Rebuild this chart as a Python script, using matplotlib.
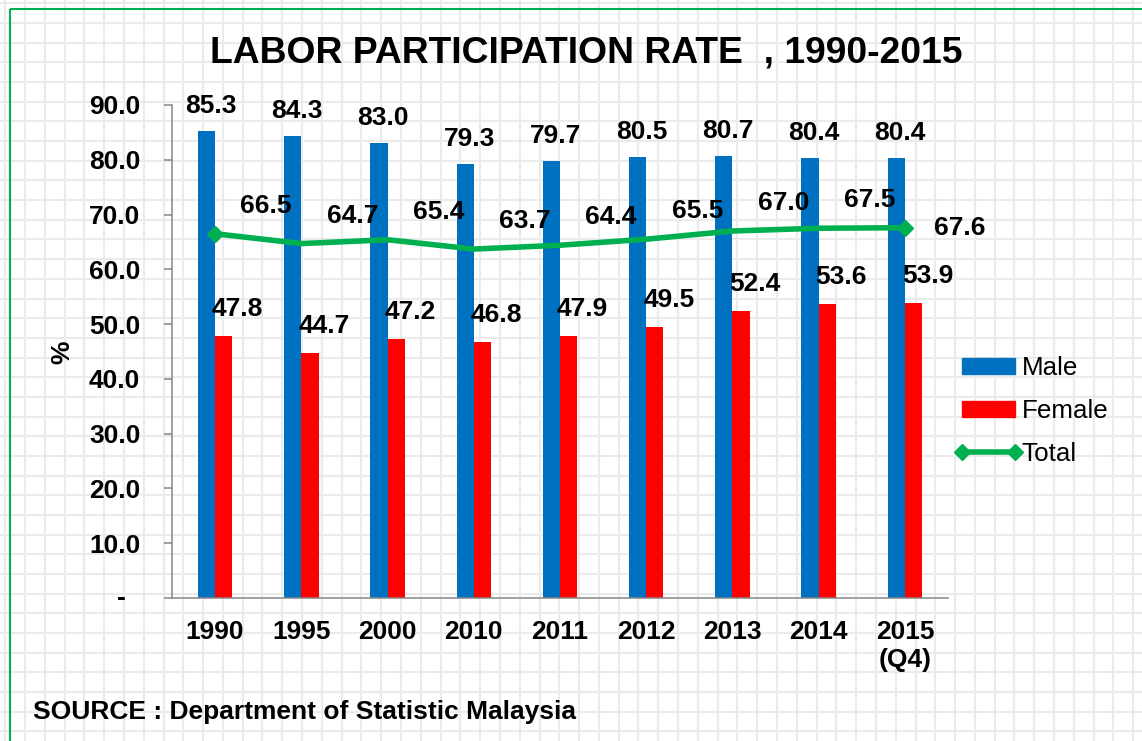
import matplotlib
matplotlib.use("Agg")
import matplotlib.pyplot as plt
import numpy as np
from matplotlib.lines import Line2D
from matplotlib.patches import Patch, Rectangle
from matplotlib.legend_handler import HandlerLine2D

years = ["1990", "1995", "2000", "2010", "2011", "2012", "2013", "2014", "2015\n(Q4)"]
male = [85.3, 84.3, 83.0, 79.3, 79.7, 80.5, 80.7, 80.4, 80.4]
female = [47.8, 44.7, 47.2, 46.8, 47.9, 49.5, 52.4, 53.6, 53.9]
total = [66.5, 64.7, 65.4, 63.7, 64.4, 65.5, 67.0, 67.5, 67.6]
yticks = [0, 10, 20, 30, 40, 50, 60, 70, 80, 90]
ylabels = ["", "10.0", "20.0", "30.0", "40.0", "50.0", "60.0", "70.0", "80.0", "90.0"]

BLUE = "#0070C0"
RED = "#FF0000"
GREEN = "#00B050"
AXGRAY = "#868686"
FS = 19

W, H = 1142, 741
plt.rcParams['font.family'] = ['Liberation Sans', 'DejaVu Sans']
fig = plt.figure(figsize=(W / 100, H / 100), dpi=100)

# graph paper background + green frame
bg = fig.add_axes([0, 0, 1, 1], zorder=0)
bg.set_xlim(0, W)
bg.set_ylim(H, 0)
bg.axis('off')
bg.vlines(np.arange(5.2, W + 20, 19.79), 0, H, color='#ebebeb', lw=1.45)
bg.hlines(np.arange(3.3, H + 20, 19.68), 0, W, color='#ebebeb', lw=1.45)
bg.add_patch(Rectangle((10, 9), W + 50, H + 50, fill=False, ec=GREEN, lw=1.5, zorder=5))

ax = fig.add_axes([172 / W, (H - 598) / H, 776 / W, 493 / H], zorder=1)
ax.set_facecolor('none')
x = np.arange(len(years))
ax.bar(x - 0.1, male, 0.2, color=BLUE, zorder=2)
ax.bar(x + 0.1, female, 0.2, color=RED, zorder=2)
ax.plot(x, total, color=GREEN, lw=4, marker='D', ms=8.5, markevery=[0, len(x) - 1], zorder=3)

ax.set_xlim(-0.5, len(x) - 0.5)
ax.set_ylim(0, 90)
ax.set_xticks(x, years)
ax.set_yticks(yticks, ylabels)
ax.tick_params(axis='x', length=0, pad=16, labelsize=FS)
ax.tick_params(axis='y', length=5.8, width=1.1, color=AXGRAY, pad=17, labelsize=FS)
for lbl in ax.get_xticklabels() + ax.get_yticklabels():
    lbl.set_fontweight('bold')
    lbl.set_linespacing(1.2)
for s in ['top', 'right']:
    ax.spines[s].set_visible(False)
for s in ['left', 'bottom']:
    ax.spines[s].set_color(AXGRAY)
    ax.spines[s].set_linewidth(1.1)

ax.annotate('-', xy=(0, 0), xycoords=('axes fraction', 'data'), xytext=(-46, 0),
            textcoords='offset pixels', ha='right', va='center', fontsize=FS, fontweight='bold')

lab = dict(textcoords='offset pixels', ha='center', va='baseline', fontsize=FS, fontweight='bold', zorder=4)
for i in range(len(x)):
    ax.annotate(f"{male[i]:.1f}", xy=(i - 0.1, male[i]), xytext=(4, 18), **lab)
    ax.annotate(f"{female[i]:.1f}", xy=(i + 0.1, female[i]), xytext=(14, 20), **lab)
    if i < len(x) - 1:
        ax.annotate(f"{total[i]:.1f}", xy=(i, total[i]), xytext=(51, 21), **lab)
    else:
        ax.annotate(f"{total[i]:.1f}", xy=(i, total[i]), xytext=(55, 0), textcoords='offset pixels',
                    ha='center', va='center', fontsize=FS, fontweight='bold')

handles = [Patch(color=BLUE), Patch(color=RED),
           Line2D([], [], color=GREEN, lw=4, marker='D', ms=8.5)]
fig.legend(handles, ['Male', 'Female', 'Total'], loc='center left',
           bbox_to_anchor=(962 / W, 1 - 411 / H), frameon=False, fontsize=18.7,
           handlelength=2.05, handleheight=0.55, handletextpad=0.25, labelspacing=0.72,
           borderpad=0, borderaxespad=0, numpoints=2,
           handler_map={Line2D: HandlerLine2D(marker_pad=0)})

fig.text(586 / W, 1 - 63 / H, "LABOR PARTICIPATION RATE  , 1990-2015", ha='center', va='baseline',
         fontsize=26.8, fontweight='bold')
fig.text(62 / W, 1 - 352 / H, "%", rotation=90, ha='center', va='center', fontsize=FS, fontweight='bold')
fig.text(33 / W, 1 - 719 / H, "SOURCE : Department of Statistic Malaysia", ha='left', va='baseline',
         fontsize=FS, fontweight='bold')

fig.savefig("out.png", dpi=100)
